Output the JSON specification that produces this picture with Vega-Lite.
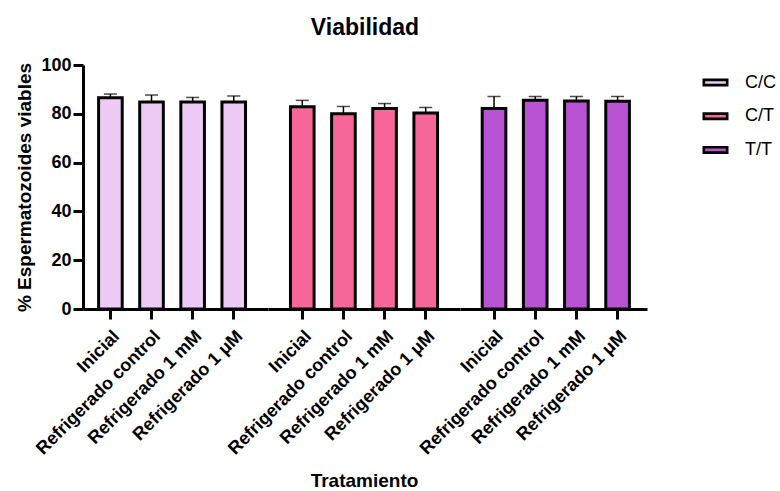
{
  "$schema": "https://vega.github.io/schema/vega-lite/v6.json",
  "padding": {"left": 15, "top": 17, "right": 0, "bottom": 0},
  "background": "white",
  "bounds": "flush",
  "title": {"text": "Viabilidad", "font": "Liberation Sans", "fontSize": 23, "fontWeight": "bold", "color": "black", "anchor": "middle", "offset": 16, "dx": -31},
  "data": {"values": [
    {"Genotipo": "C/C", "Tratamiento": "Inicial", "Media": 86.6, "Superior": 88.1},
    {"Genotipo": "C/C", "Tratamiento": "Refrigerado control", "Media": 84.8, "Superior": 87.7},
    {"Genotipo": "C/C", "Tratamiento": "Refrigerado 1 mM", "Media": 84.8, "Superior": 86.7},
    {"Genotipo": "C/C", "Tratamiento": "Refrigerado 1 μM", "Media": 84.8, "Superior": 87.3},
    {"Genotipo": "C/T", "Tratamiento": "Inicial", "Media": 82.9, "Superior": 85.5},
    {"Genotipo": "C/T", "Tratamiento": "Refrigerado control", "Media": 80.0, "Superior": 83.0},
    {"Genotipo": "C/T", "Tratamiento": "Refrigerado 1 mM", "Media": 82.2, "Superior": 84.2},
    {"Genotipo": "C/T", "Tratamiento": "Refrigerado 1 μM", "Media": 80.3, "Superior": 82.6},
    {"Genotipo": "T/T", "Tratamiento": "Inicial", "Media": 82.2, "Superior": 87.1},
    {"Genotipo": "T/T", "Tratamiento": "Refrigerado control", "Media": 85.6, "Superior": 87.1},
    {"Genotipo": "T/T", "Tratamiento": "Refrigerado 1 mM", "Media": 85.2, "Superior": 87.1},
    {"Genotipo": "T/T", "Tratamiento": "Refrigerado 1 μM", "Media": 85.1, "Superior": 87.1}
  ]},
  "spacing": 0,
  "hconcat": [
    {
      "width": 185, "height": 244,
      "transform": [{"filter": "datum.Genotipo == 'C/C'"}],
      "encoding": {"x": {"field": "Tratamiento", "type": "nominal", "sort": ["Inicial", "Refrigerado control", "Refrigerado 1 mM", "Refrigerado 1 μM"], "scale": {"paddingInner": 0.426, "paddingOuter": 0.463, "align": 0.41}, "axis": {"title": null}}},
      "layer": [
        {"mark": {"type": "bar", "stroke": "black", "strokeWidth": 3},
         "encoding": {
           "y": {"field": "Media", "type": "quantitative", "scale": {"domain": [0, 100]}, "title": "% Espermatozoides viables"},
           "fill": {"field": "Genotipo", "type": "nominal", "scale": {"domain": ["C/C", "C/T", "T/T"], "range": ["#EECBF5", "#F8679A", "#B953D3"]}, "legend": {"title": null, "orient": "none", "legendX": 623, "legendY": 8, "padding": 0, "symbolType": "M-1.5,-0.34H1.5V0.34H-1.5Z", "symbolSize": 241, "symbolStrokeColor": "black", "symbolStrokeWidth": 2.7, "labelFont": "Liberation Sans", "labelFontSize": 18, "labelColor": "black", "rowPadding": 14.7, "labelOffset": 20}}
         }},
        {"mark": {"type": "rule", "color": "black", "strokeWidth": 1.5},
         "encoding": {"y": {"field": "Media", "type": "quantitative", "title": "% Espermatozoides viables"}, "y2": {"field": "Superior"}}},
        {"mark": {"type": "tick", "orient": "horizontal", "color": "black", "size": 13, "thickness": 1.5},
         "encoding": {"y": {"field": "Superior", "type": "quantitative", "title": "% Espermatozoides viables"}}}
      ]
    },
    {
      "width": 192, "height": 244,
      "transform": [{"filter": "datum.Genotipo == 'C/T'"}],
      "encoding": {"x": {"field": "Tratamiento", "type": "nominal", "sort": ["Inicial", "Refrigerado control", "Refrigerado 1 mM", "Refrigerado 1 μM"], "scale": {"paddingInner": 0.426, "paddingOuter": 0.546, "align": 0.5}, "axis": {"title": "Tratamiento"}}},
      "layer": [
        {"mark": {"type": "bar", "stroke": "black", "strokeWidth": 3},
         "encoding": {
           "y": {"field": "Media", "type": "quantitative", "scale": {"domain": [0, 100]}, "axis": null},
           "fill": {"field": "Genotipo", "type": "nominal", "scale": {"domain": ["C/C", "C/T", "T/T"], "range": ["#EECBF5", "#F8679A", "#B953D3"]}, "legend": {"title": null, "orient": "none", "legendX": 623, "legendY": 8, "padding": 0, "symbolType": "M-1.5,-0.34H1.5V0.34H-1.5Z", "symbolSize": 241, "symbolStrokeColor": "black", "symbolStrokeWidth": 2.7, "labelFont": "Liberation Sans", "labelFontSize": 18, "labelColor": "black", "rowPadding": 14.7, "labelOffset": 20}}
         }},
        {"mark": {"type": "rule", "color": "black", "strokeWidth": 1.5},
         "encoding": {"y": {"field": "Media", "type": "quantitative", "axis": null}, "y2": {"field": "Superior"}}},
        {"mark": {"type": "tick", "orient": "horizontal", "color": "black", "size": 13, "thickness": 1.5},
         "encoding": {"y": {"field": "Superior", "type": "quantitative", "axis": null}}}
      ]
    },
    {
      "width": 187, "height": 244,
      "transform": [{"filter": "datum.Genotipo == 'T/T'"}],
      "encoding": {"x": {"field": "Tratamiento", "type": "nominal", "sort": ["Inicial", "Refrigerado control", "Refrigerado 1 mM", "Refrigerado 1 μM"], "scale": {"paddingInner": 0.426, "paddingOuter": 0.483, "align": 0.558}, "axis": {"title": null}}},
      "layer": [
        {"mark": {"type": "bar", "stroke": "black", "strokeWidth": 3},
         "encoding": {
           "y": {"field": "Media", "type": "quantitative", "scale": {"domain": [0, 100]}, "axis": null},
           "fill": {"field": "Genotipo", "type": "nominal", "scale": {"domain": ["C/C", "C/T", "T/T"], "range": ["#EECBF5", "#F8679A", "#B953D3"]}, "legend": {"title": null, "orient": "none", "legendX": 623, "legendY": 8, "padding": 0, "symbolType": "M-1.5,-0.34H1.5V0.34H-1.5Z", "symbolSize": 241, "symbolStrokeColor": "black", "symbolStrokeWidth": 2.7, "labelFont": "Liberation Sans", "labelFontSize": 18, "labelColor": "black", "rowPadding": 14.7, "labelOffset": 20}}
         }},
        {"mark": {"type": "rule", "color": "black", "strokeWidth": 1.5},
         "encoding": {"y": {"field": "Media", "type": "quantitative", "axis": null}, "y2": {"field": "Superior"}}},
        {"mark": {"type": "tick", "orient": "horizontal", "color": "black", "size": 13, "thickness": 1.5},
         "encoding": {"y": {"field": "Superior", "type": "quantitative", "axis": null}}}
      ]
    }
  ],
  "config": {
    "view": {"stroke": null},
    "concat": {"spacing": 0},
    "axis": {"domainColor": "black", "domainWidth": 3, "tickColor": "black", "tickWidth": 3, "tickSize": 10, "labelFont": "Liberation Sans", "labelFontSize": 18, "labelFontWeight": "bold", "labelColor": "black", "titleFont": "Liberation Sans", "titleFontSize": 19, "titleFontWeight": "bold", "titleColor": "black", "grid": false},
    "axisX": {"labelAngle": -45, "labelPadding": 8, "titlePadding": 14},
    "axisY": {"values": [0, 20, 40, 60, 80, 100], "labelPadding": 2, "titlePadding": 6}
  }
}
